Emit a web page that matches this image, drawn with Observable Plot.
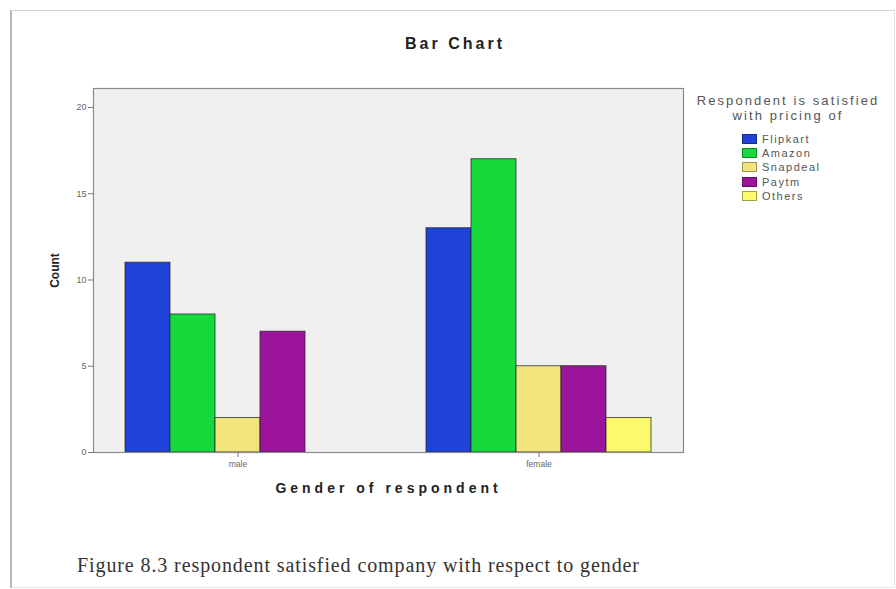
<!DOCTYPE html>
<html>
<head>
<meta charset="utf-8">
<script src="https://cdn.jsdelivr.net/npm/d3@7"></script>
<script src="https://cdn.jsdelivr.net/npm/@observablehq/plot@0.6"></script>
<style>
  html, body { margin: 0; padding: 0; background: #fff; }
  body { width: 896px; height: 589px; position: relative; overflow: hidden; font-family: "Liberation Sans", Arial, sans-serif; }
  #border { position: absolute; left: 10px; top: 10px; width: 882px; height: 576px; border-left: 2px solid #b8b8b8; border-top: 1px solid #d4d4d4; border-right: 1px solid #e2e2e2; border-bottom: 1px solid #e6e6e6; }
  #chart { position: absolute; left: 0; top: 0; }
  #title { position: absolute; left: 335px; width: 240px; top: 35px; text-align: center; font-weight: bold; font-size: 16px; letter-spacing: 3px; color: #222; }
  #legend { position: absolute; left: 683px; top: 94px; width: 210px; color: #555; }
  #legend .lt { text-align: center; font-size: 13px; letter-spacing: 2.1px; line-height: 14.5px; white-space: nowrap; }
  #legend .items { position: absolute; left: 59px; top: 38px; }
  #legend .row { height: 14.2px; display: flex; align-items: center; font-size: 11px; letter-spacing: 1.5px; }
  #legend .sw { width: 15px; height: 10px; margin-right: 5px; box-sizing: border-box; border: 1px solid rgba(0,0,0,0.35); }
  #caption { position: absolute; left: 77px; top: 554px; font-family: "Liberation Serif", "Times New Roman", serif; font-size: 20px; color: #333; letter-spacing: 0.9px; white-space: nowrap; }
  #chart svg [aria-label="y-axis label"] text { font-weight: bold; font-size: 12px; fill: #222; }
  #chart svg [aria-label="fx-axis label"] text { font-weight: bold; font-size: 14px; letter-spacing: 4px; fill: #222; }
  #chart svg [aria-label="y-axis tick label"] text,
  #chart svg [aria-label="fx-axis tick label"] text { fill: #666; }
</style>
</head>
<body>
<div id="border"></div>
<div id="title">Bar Chart</div>
<div id="chart"></div>
<div id="legend"></div>
<div id="caption">Figure 8.3 respondent satisfied company with respect to gender</div>
<script>
const genders = ["male", "female"];
const companies = ["Flipkart", "Amazon", "Snapdeal", "Paytm", "Others"];
const maleCounts = [11, 8, 2, 7, 0];
const femaleCounts = [13, 17, 5, 5, 2];
const colors = ["#1f42d8", "#16d93c", "#f1e47c", "#9c149c", "#fbfb6c"];
const yTicks = [0, 5, 10, 15, 20];
const legendTitle = ["Respondent is satisfied", "with pricing of"];

const countsByGender = { male: maleCounts, female: femaleCounts };
const data = [];
for (const g of genders) {
  companies.forEach((c, i) => data.push({ gender: g, company: c, count: countsByGender[g][i] }));
}

const chart = Plot.plot({
  width: 896,
  height: 510,
  marginLeft: 93,
  marginRight: 213,
  marginTop: 88,
  marginBottom: 58,
  style: { fontFamily: "Liberation Sans, Arial, sans-serif", background: "transparent" },
  fx: { domain: genders, paddingInner: 0.04, paddingOuter: 0, label: null },
  x: { domain: companies, paddingInner: 0, paddingOuter: 0.711, axis: null },
  y: { domain: [0, 21.1], label: null, axis: null },
  color: { domain: companies, range: colors },
  marks: [
    Plot.frame({ facet: "super", fill: "#f0f0f0", stroke: null }),
    Plot.barY(data.filter(d => d.count > 0), {
      fx: "gender", x: "company", y: "count", fill: "company",
      stroke: "#222", strokeOpacity: 0.75, strokeWidth: 1, inset: 0
    }),
    Plot.frame({ facet: "super", stroke: "#8a8a8a", strokeWidth: 1.2 }),
    Plot.axisY({
      ticks: yTicks, tickSize: 5, tickPadding: 2, fontSize: 9, stroke: "#777",
      label: "Count", labelAnchor: "center", labelOffset: 43, labelArrow: false
    }),
    Plot.axisFx({
      anchor: "bottom", tickSize: 5, tickPadding: 3, fontSize: 8.5, stroke: "#777",
      label: "Gender of respondent", labelAnchor: "center", labelOffset: 40, labelArrow: false
    })
  ]
});
document.getElementById("chart").appendChild(chart);

const legend = document.getElementById("legend");
legend.innerHTML = legendTitle.map(t => `<div class="lt">${t}</div>`).join("") +
  `<div class="items">` +
  companies.map((c, i) => `<div class="row"><span class="sw" style="background:${colors[i]}"></span>${c}</div>`).join("") +
  `</div>`;
</script>
</body>
</html>
